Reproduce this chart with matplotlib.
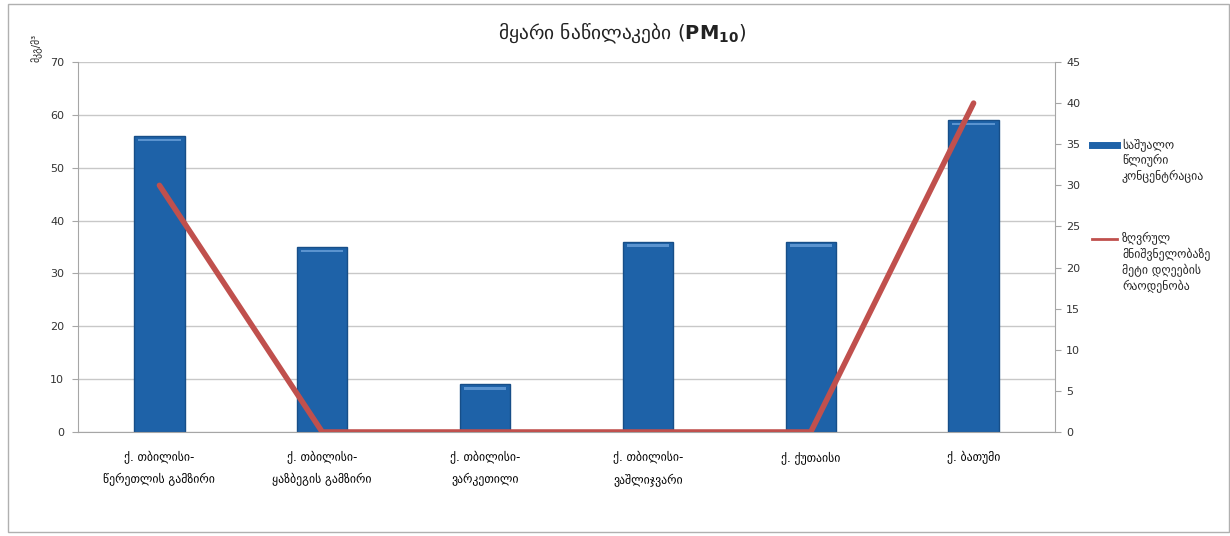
import matplotlib
matplotlib.use("Agg")
import matplotlib.pyplot as plt
from matplotlib.lines import Line2D
from matplotlib.patches import Rectangle
import numpy as np

plt.rcParams['font.family'] = ['DejaVu Sans']

categories = [
    "ქ. თბილისი-\nწერეთლის გამზირი",
    "ქ. თბილისი-\nყაზბეგის გამზირი",
    "ქ. თბილისი-\nვარკეთილი",
    "ქ. თბილისი-\nვაშლიჯვარი",
    "ქ. ქუთაისი",
    "ქ. ბათუმი",
]
annual_mean = [56, 35, 9, 36, 36, 59]
days_over_limit = [30, 0, 0, 0, 0, 40]

left_ticks = [0, 10, 20, 30, 40, 50, 60, 70]
right_ticks = [0, 5, 10, 15, 20, 25, 30, 35, 40, 45]

title = "მყარი ნაწილაკები ($\\mathbf{PM_{10}}$)"
ylabel = "მკგ/მ³"
legend_bar = "საშუალო\nწლიური\nკონცენტრაცია"
legend_line = "ზღვრულ\nმნიშვნელობაზე\nმეტი დღეების\nრაოდენობა"

bar_color = "#1E62A8"
bar_edge = "#174E88"
line_color = "#C0504D"
grid_color = "#C8C8C8"
spine_color = "#A6A6A6"

fig = plt.figure(figsize=(12.3, 5.36), dpi=100)
fig.patch.set_facecolor("white")
fig.add_artist(Rectangle((8 / 1230, 4 / 536), 1221 / 1230, 528 / 536,
                         transform=fig.transFigure, fill=False,
                         edgecolor="#B0B0B0", linewidth=1.0))

ax = fig.add_axes([78 / 1230, 1 - 432 / 536, (1055 - 78) / 1230, (432 - 62) / 536])
x = np.arange(len(categories))
ax.bar(x, annual_mean, width=0.31, color=bar_color, edgecolor=bar_edge,
       linewidth=1.0, zorder=2)
# light rim at the top of each bar
ax.bar(x, [0.5] * len(x), bottom=np.array(annual_mean) - 1.0, width=0.26,
       color="#5A93CF", linewidth=0, zorder=3)

ax.set_xlim(-0.5, len(categories) - 0.5)
ax.set_ylim(0, 70)
ax.set_yticks(left_ticks)
ax.yaxis.grid(True, color=grid_color, linewidth=1.0, zorder=0)
ax.set_axisbelow(True)
ax.set_xticks(x)
ax.set_xticklabels(categories, fontsize=8.5, linespacing=1.9)
ax.tick_params(axis="x", length=0, pad=14)
ax.tick_params(axis="y", labelsize=8, colors="#333333", length=4,
               color=spine_color, pad=6)
for s in ["left", "bottom"]:
    ax.spines[s].set_color(spine_color)
ax.spines["top"].set_visible(False)
ax.spines["right"].set_visible(False)

ax2 = ax.twinx()
ax2.plot(x, days_over_limit, color=line_color, linewidth=4.0,
         solid_capstyle="round", solid_joinstyle="round", zorder=4)
ax2.set_ylim(0, 45)
ax2.set_yticks(right_ticks)
ax2.tick_params(axis="y", labelsize=8, colors="#333333", length=4,
                color=spine_color, pad=4)
ax2.spines["right"].set_color(spine_color)
for s in ["top", "left", "bottom"]:
    ax2.spines[s].set_visible(False)

fig.text(622 / 1230, 1 - 33 / 536, title, ha="center", va="center",
         fontsize=14, color="#222222")
fig.text(37 / 1230, 1 - 62 / 536, ylabel, rotation=90, ha="center",
         va="bottom", fontsize=7, color="#222222")

# legend
fig.add_artist(Line2D([1092 / 1230, 1117 / 1230], [1 - 145 / 536] * 2,
                      transform=fig.transFigure, color=bar_color, linewidth=5))
fig.text(1122 / 1230, 1 - 138 / 536, legend_bar, ha="left", va="top",
         fontsize=8.5, linespacing=1.3, color="#222222")
fig.add_artist(Line2D([1092 / 1230, 1117 / 1230], [1 - 239 / 536] * 2,
                      transform=fig.transFigure, color=line_color, linewidth=2))
fig.text(1122 / 1230, 1 - 232 / 536, legend_line, ha="left", va="top",
         fontsize=8.5, linespacing=1.3, color="#222222")

fig.savefig("out.png", dpi=100, facecolor="white")
